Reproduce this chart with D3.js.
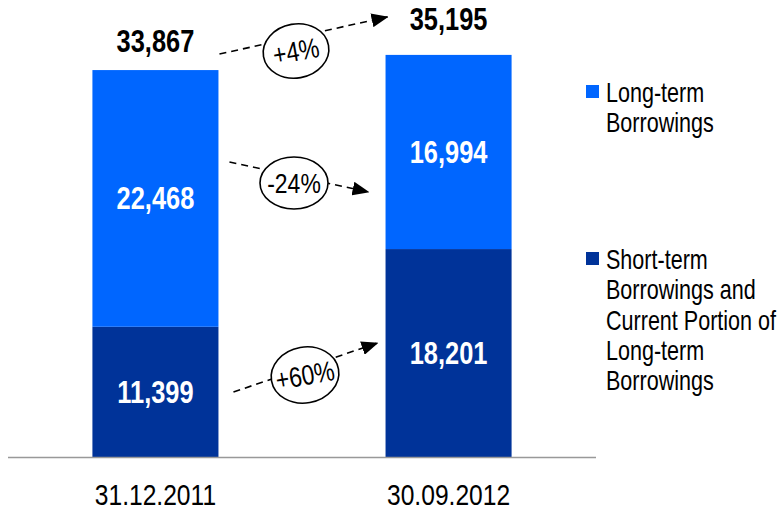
<!DOCTYPE html>
<html>
<head>
<meta charset="utf-8">
<script src="https://cdn.jsdelivr.net/npm/d3@7"></script>
<style>
  html, body { margin: 0; padding: 0; background: #fff; }
  svg { display: block; }
  text { font-family: "Liberation Sans", Arial, sans-serif; }
</style>
</head>
<body>
<svg id="chart" width="781" height="511"></svg>
<script>
// Borrowings, in stacked order (bottom to top)
const categories = ["31.12.2011", "30.09.2012"];
const shortTerm = [11399, 18201];
const longTerm = [22468, 16994];
const totals = [33867, 35195];
const seriesNames = ["Long-term Borrowings", "Short-term Borrowings and Current Portion of Long-term Borrowings"];
const legendLines = [["Long-term", "Borrowings"], ["Short-term", "Borrowings and", "Current Portion of", "Long-term", "Borrowings"]];
const changeLabels = ["+4%", "-24%", "+60%"];

const colors = { long: "#0066ff", short: "#003399" };
const fmt = d3.format(",");
const narrow = 0.82; // horizontal squeeze for a condensed look

const svg = d3.select("#chart");
const baseY = 457;

const x = d3.scaleBand()
  .domain(categories)
  .range([8, 596])
  .paddingInner(0.57)
  .paddingOuter(0.288);

const y = d3.scaleLinear().domain([0, 40000]).range([baseY, 0]);

const rows = categories.map((c, i) => ({ cat: c, short: shortTerm[i], long: longTerm[i], total: totals[i] }));
const stack = d3.stack().keys(["short", "long"])(rows);

// place a condensed text at (px, py)
function place(sel, px, py, sx = narrow) {
  return sel.attr("transform", (d, i) => `translate(${px(d, i)},${py(d, i)}) scale(${sx},1)`);
}

// stacked bars
const layer = svg.selectAll("g.layer").data(stack).join("g")
  .attr("class", "layer")
  .attr("fill", d => colors[d.key]);

layer.selectAll("rect").data(d => d).join("rect")
  .attr("x", d => x(d.data.cat))
  .attr("width", x.bandwidth())
  .attr("y", d => y(d[1]))
  .attr("height", d => y(d[0]) - y(d[1]));

// segment values
layer.selectAll("text").data(d => d.map(v => ({ v, key: d.key }))).join("text")
  .call(place, d => x(d.v.data.cat) + x.bandwidth() / 2, d => (y(d.v[0]) + y(d.v[1])) / 2 + 11)
  .attr("text-anchor", "middle")
  .attr("fill", "#fff")
  .attr("font-weight", "bold")
  .attr("font-size", 31)
  .text(d => fmt(d.v.data[d.key]));

// totals above bars
const totalLift = [18, 25];
svg.selectAll("text.total").data(rows).join("text")
  .attr("class", "total")
  .call(place, d => x(d.cat) + x.bandwidth() / 2, (d, i) => y(d.total) - totalLift[i])
  .attr("text-anchor", "middle")
  .attr("fill", "#000")
  .attr("font-weight", "bold")
  .attr("font-size", 31)
  .text(d => fmt(d.total));

// baseline
svg.append("line")
  .attr("x1", 8).attr("x2", 596)
  .attr("y1", baseY + 0.5).attr("y2", baseY + 0.5)
  .attr("stroke", "#999").attr("stroke-width", 1.5);

// category labels
svg.selectAll("text.cat").data(categories).join("text")
  .attr("class", "cat")
  .call(place, d => x(d) + x.bandwidth() / 2, () => 505)
  .attr("text-anchor", "middle")
  .attr("font-size", 30)
  .attr("fill", "#000")
  .text(d => d);

// legend
const legendTop = [85, 252];
const legend = svg.selectAll("g.legend").data([
  { color: colors.long, lines: legendLines[0] },
  { color: colors.short, lines: legendLines[1] }
]).join("g")
  .attr("class", "legend")
  .attr("transform", (d, i) => `translate(586,${legendTop[i]})`);

legend.append("rect").attr("width", 13).attr("height", 13).attr("fill", d => d.color);
legend.selectAll("text").data(d => d.lines).join("text")
  .call(place, () => 20, (d, i) => 17 + i * 30.3, 0.77)
  .attr("font-size", 28)
  .attr("fill", "#000")
  .text(d => d);

// change arrows between the two dates
svg.append("defs").append("marker")
  .attr("id", "head")
  .attr("viewBox", "0 0 17 14")
  .attr("refX", 16).attr("refY", 7)
  .attr("markerWidth", 17).attr("markerHeight", 14)
  .attr("markerUnits", "userSpaceOnUse")
  .attr("orient", "auto")
  .append("path").attr("d", "M0,0 L17,7 L0,14 Z").attr("fill", "#000");

const x0 = x(categories[0]) + x.bandwidth();
const x1 = x(categories[1]);
const arrows = [
  { from: [x0 + 1, y(totals[0]) - 16], to: [x1 + 2, y(totals[1]) - 38], c: [296, 51], rx: 33, ry: 27, rot: -10, label: changeLabels[0] },
  { from: [x0 + 11, 162], to: [x1 - 17, 192], c: [294, 183], rx: 34, ry: 26, rot: 0, label: changeLabels[1] },
  { from: [x0 + 15, 392], to: [x1 - 8, 343], c: [305, 375], rx: 34, ry: 28, rot: -10, label: changeLabels[2] }
];

const arr = svg.selectAll("g.arrow").data(arrows).join("g").attr("class", "arrow");
arr.append("line")
  .attr("x1", d => d.from[0]).attr("y1", d => d.from[1])
  .attr("x2", d => d.to[0]).attr("y2", d => d.to[1])
  .attr("stroke", "#000").attr("stroke-width", 1.6)
  .attr("stroke-dasharray", "7,5")
  .attr("marker-end", "url(#head)");
const bubble = arr.append("g")
  .attr("transform", d => `translate(${d.c[0]},${d.c[1]}) rotate(${d.rot})`);
bubble.append("ellipse")
  .attr("rx", d => d.rx).attr("ry", d => d.ry)
  .attr("fill", "#fff").attr("stroke", "#000").attr("stroke-width", 1.6);
bubble.append("text")
  .attr("transform", `translate(0,10) scale(${narrow},1)`)
  .attr("text-anchor", "middle")
  .attr("font-size", 28)
  .attr("fill", "#000")
  .text(d => d.label);
</script>
</body>
</html>
